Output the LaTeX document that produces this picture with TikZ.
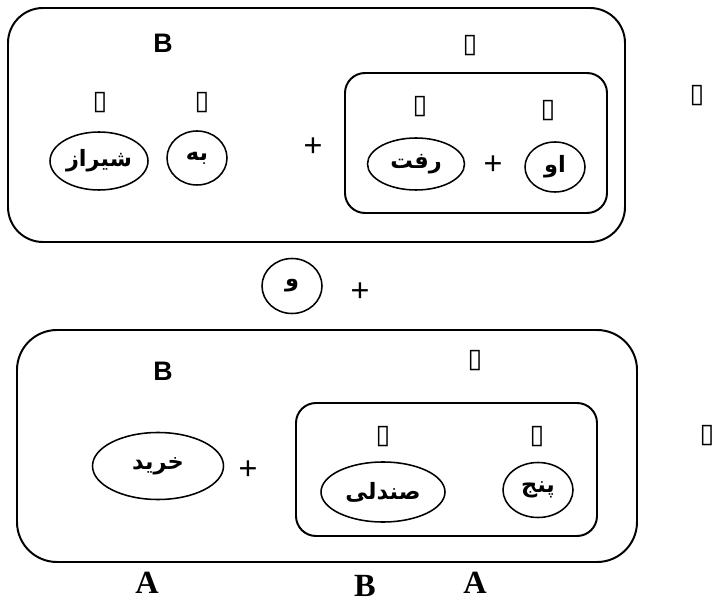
\documentclass[tikz,border=0pt]{standalone}
\usepackage{fontspec}
\setmainfont{Liberation Sans}
\newfontfamily\farsi[Script=Arabic]{DejaVu Sans}
\newfontfamily\symb{DejaVu Sans}
\newfontfamily\serifbf{Liberation Serif}
\TeXXeTstate=1
\usepackage{tikz}
\usetikzlibrary{
    shapes.geometric,
    positioning
}
\tikzstyle{frame} = [
    line width=1.4pt,
    rounded corners=0.875cm
]

\begin{document}
\begin{tikzpicture}[
  x=0.025cm, y=-0.025cm,
  word/.style 2 args={draw, ellipse, line width=1.1pt, inner sep=0pt,
    minimum width=#1*0.025cm, minimum height=#2*0.025cm,
    font=\farsi\bfseries\fontsize{16}{16}\selectfont},
  tofu/.style={inner sep=0pt, font=\symb\fontsize{19}{19}\selectfont},
  plus/.style={inner sep=0pt, font=\fontsize{23}{23}\selectfont},
  tag/.style={inner sep=0pt, font=\bfseries\fontsize{19}{19}\selectfont},
  letter/.style={inner sep=0pt, font=\serifbf\bfseries\fontsize{23}{23}\selectfont}
]
\useasboundingbox (0,0) rectangle (716,602);

\draw[frame] (8,8) rectangle (625,242);
\draw[frame, rounded corners=0.5cm] (345,73) rectangle (607,213);
\draw[frame, rounded corners=1cm] (17,330) rectangle (637,562);
\draw[frame, rounded corners=0.5cm] (296,403) rectangle (597,536);

\node[tag] (b1) at (163,43) {B};
\node[tofu] (t1) at (470,46) {▯};
\node[tofu] (t2) at (100,103) {▯};
\node[tofu] (t3) at (202,103) {▯};
\node[tofu] (t4) at (420,107) {▯};
\node[tofu] (t5) at (548,111) {▯};
\node[tofu] (t6) at (697,96) {▯};

\node[word={98}{58}] (shiraz) at (99,161) {\beginR شیراز\endR};
\node[word={60}{54}] (be) at (197,158) {\beginR به\endR};
\node[plus] (p1) at (313,147) {+};
\node[word={97}{52}] (raft) at (416,164) {\beginR رفت\endR};
\node[plus] (p2) at (493,165) {+};
\node[word={60}{50}] (u) at (555,167) {\beginR او\endR};

\node[word={60}{55}] (va) at (292,286) {\beginR و\endR};
\node[plus] (p3) at (360,292) {+};

\node[tag] (b2) at (163,371) {B};
\node[tofu] (t7) at (475,361) {▯};
\node[tofu] (t8) at (383,437) {▯};
\node[tofu] (t9) at (537,437) {▯};
\node[tofu] (t10) at (707,436) {▯};

\node[word={131}{67}] (kharid) at (158,466) {\beginR خرید\endR};
\node[plus] (p4) at (248,470) {+};
\node[word={124}{60}] (sandali) at (383,492) {\beginR صندلی\endR};
\node[word={70}{55}] (panj) at (538,490) {\beginR پنج\endR};

\node[letter] (a1) at (147,583) {A};
\node[letter] (b3) at (365,586) {B};
\node[letter] (a2) at (475,583) {A};

\end{tikzpicture}
\end{document}
